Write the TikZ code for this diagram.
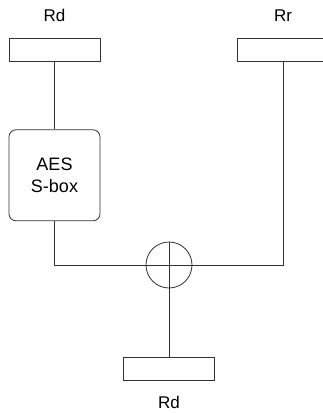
\documentclass[tikz,border=0pt]{standalone}
\usepackage{fontspec}
\setmainfont{Liberation Sans}
\usetikzlibrary{positioning}
\definecolor{wiregray}{RGB}{51,51,51}
\tikzset{
  reg/.style={
    rectangle, minimum width=91pt, minimum height=23pt, inner sep=0pt,
    draw=wiregray, line width=0.8pt
  },
  sbox/.style={
    rectangle, rounded corners=7pt, minimum width=91pt, minimum height=91pt,
    draw=wiregray, line width=0.8pt, align=center, inner sep=0pt,
    font=\fontsize{18}{22}\selectfont
  },
  xorop/.style={
    circle, minimum size=46pt, inner sep=0pt, draw=wiregray, line width=0.8pt
  },
  regname/.style={font=\fontsize{17}{20}\selectfont, inner sep=0pt},
  wire/.style={draw=wiregray, line width=0.8pt}
}
\begin{document}
\begin{tikzpicture}[x=1pt, y=1pt]
  \useasboundingbox (0,0) rectangle (323,-413);
  \node[reg] (rdin) at (54.5,-49.5) {};
  \node[reg] (rrin) at (283,-49.5) {};
  \node[regname, above=16pt of rdin] (rdinname) {Rd};
  \node[regname, above=16pt of rrin] (rrinname) {Rr};
  \node[sbox, below=68pt of rdin] (aes) {AES\\S-box};
  \node[xorop] (xor) at (169,-265) {};
  \node[reg, below=69pt of xor] (rdout) {};
  \node[regname, below=15pt of rdout] (rdoutname) {Rd};

  \draw[wire] (xor.north) -- (xor.south);
  \draw[wire] (xor.west) -- (xor.east);
  \draw[wire] (rdin) -- (aes);
  \draw[wire] (aes.south) |- (xor.west);
  \draw[wire] (rrin.south) |- (xor.east);
  \draw[wire] (xor) -- (rdout);
\end{tikzpicture}
\end{document}
